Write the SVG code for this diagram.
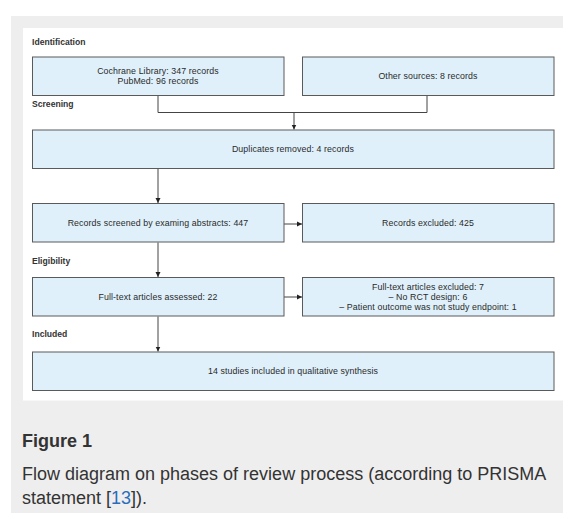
<svg xmlns="http://www.w3.org/2000/svg" width="563" height="513" viewBox="0 0 563 513">
<defs>
<style>
.box{fill:#dff0fa;stroke:#5a5a5a;stroke-width:1}
.t{font-family:"Liberation Sans",Arial,sans-serif;font-size:8.8px;fill:#2a2a2a;text-anchor:middle;letter-spacing:0.1px}
.lab{font-family:"Liberation Sans",Arial,sans-serif;font-size:8.6px;font-weight:bold;fill:#333}
.line{fill:none;stroke:#444;stroke-width:1}
.cap{font-family:"Liberation Sans",Arial,sans-serif;font-size:18px;fill:#333}
</style>
<marker id="ah" markerWidth="6" markerHeight="6" refX="5" refY="3" orient="auto" markerUnits="userSpaceOnUse">
<path d="M0,0.5 L5,3 L0,5.5 Z" fill="#222"/>
</marker>
</defs>
<rect x="0" y="0" width="563" height="513" fill="#ffffff"/>
<rect x="11" y="16" width="552" height="497" fill="#eeeeee"/>
<rect x="23" y="28" width="540" height="372.5" fill="#ffffff"/>

<text class="lab" x="32" y="45">Identification</text>
<text class="lab" x="32" y="107">Screening</text>
<text class="lab" x="32" y="264">Eligibility</text>
<text class="lab" x="32" y="337">Included</text>

<g id="connectors">
<polyline class="line" points="158,95.7 158,112.5 427,112.5 427,95.7"/>
<line class="line" x1="294" y1="112.5" x2="294" y2="129.5" marker-end="url(#ah)"/>
<line class="line" x1="158" y1="168.5" x2="158" y2="203" marker-end="url(#ah)"/>
<line class="line" x1="284" y1="224" x2="302" y2="224" marker-end="url(#ah)"/>
<line class="line" x1="158" y1="242.5" x2="158" y2="277" marker-end="url(#ah)"/>
<line class="line" x1="284" y1="297" x2="302" y2="297" marker-end="url(#ah)"/>
<line class="line" x1="158" y1="316.5" x2="158" y2="351.5" marker-end="url(#ah)"/>
</g>

<g id="n1">
<rect class="box" x="32.5" y="57" width="251.5" height="38.5"/>
<text class="t" x="158" y="73.5">Cochrane Library: 347 records</text>
<text class="t" x="158" y="83.5">PubMed: 96 records</text>
</g>
<g id="n2">
<rect class="box" x="302.5" y="57" width="251.5" height="38.5"/>
<text class="t" x="428" y="79">Other sources: 8 records</text>
</g>
<g id="n3">
<rect class="box" x="32.5" y="130" width="521.5" height="38.5"/>
<text class="t" x="293" y="152">Duplicates removed: 4 records</text>
</g>
<g id="n4">
<rect class="box" x="32.5" y="203.5" width="251.5" height="38.5"/>
<text class="t" x="158" y="225.5">Records screened by examing abstracts: 447</text>
</g>
<g id="n5">
<rect class="box" x="302.5" y="203.5" width="251.5" height="38.5"/>
<text class="t" x="428" y="225.5">Records excluded: 425</text>
</g>
<g id="n6">
<rect class="box" x="32.5" y="277.5" width="251.5" height="38.5"/>
<text class="t" x="158" y="299.5">Full-text articles assessed: 22</text>
</g>
<g id="n7">
<rect class="box" x="302.5" y="277.5" width="251.5" height="38.5"/>
<text class="t" x="428" y="290">Full-text articles excluded: 7</text>
<text class="t" x="428" y="300">– No RCT design: 6</text>
<text class="t" x="428" y="310">– Patient outcome was not study endpoint: 1</text>
</g>
<g id="n8">
<rect class="box" x="32.5" y="352" width="521.5" height="38.5"/>
<text class="t" x="293" y="374">14 studies included in qualitative synthesis</text>
</g>

<text class="cap" x="22" y="447" font-weight="bold" font-size="19.5px">Figure 1</text>
<text class="cap" x="22" y="480">Flow diagram on phases of review process (according to PRISMA</text>
<text class="cap" x="22" y="504">statement [<tspan fill="#2a6ebb">13</tspan>]).</text>
</svg>
